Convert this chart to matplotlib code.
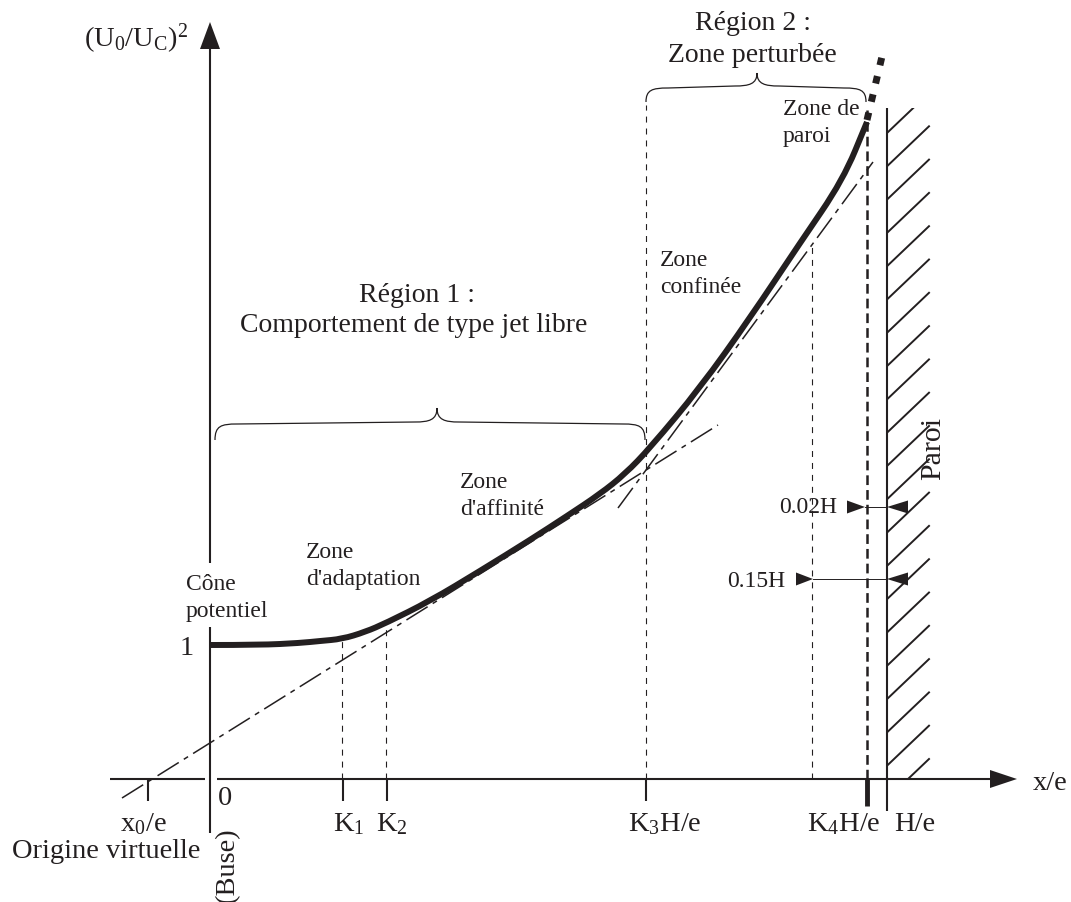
import numpy as np
import matplotlib
matplotlib.use('Agg')
import matplotlib.pyplot as plt
from matplotlib.path import Path
from matplotlib.patches import PathPatch, Polygon, Rectangle

plt.rcParams['font.family'] = ['Liberation Serif', 'DejaVu Serif']
plt.rcParams['mathtext.fontset'] = 'custom'
plt.rcParams['mathtext.rm'] = 'Liberation Serif'
plt.rcParams['mathtext.it'] = 'Liberation Serif:italic'
plt.rcParams['lines.scale_dashes'] = False

INK = '#231f20'

# ---------------- data (schematic units, origin at the axes crossing) ----------------
curve_x = [0, 50, 90, 110, 132, 155, 176, 220, 270, 320, 357, 390, 415, 440, 490, 540, 590, 633, 657]
curve_y = [134, 134, 136, 138, 140, 147, 156, 178, 208, 239, 263, 285, 305, 331, 391, 461, 536, 599, 657]
ext_x = [657, 674]
ext_y = [659, 731]

free_jet_x = [-88, 508]          # asymptote of the free-jet zone
free_jet_y = [-19, 354]
confined_x = [408, 663]          # asymptote of the confined zone
confined_y = [271, 617]

tick_pos = [-62, 133, 177, 436, 657]
tick_labels = ['x$_0$/e', 'K$_1$', 'K$_2$', 'K$_3$H/e', 'K$_4$H/e']
tick_label_x = [-67, 139, 182, 455, 634]

K1_x, K2_x, K3_x = 132, 176, 436
K4_x = 602          # 0.15H line
wall_near_x = 657   # 0.02H line
wall_x = 677
curve_at_K1, curve_at_K2 = 140, 156

AX_FS = 20.5
TITLE_FS = 20
ZONE_FS = 17

fig = plt.figure(figsize=(10.71, 9.02), dpi=100)
ax = fig.add_axes([0, 0, 1, 1])
ax.set_xlim(-210, 861)
ax.set_ylim(-123, 779)
ax.axis('off')

# ---------------- axes ----------------
ax.plot([0, 0], [-54, 152], color=INK, lw=1.5, solid_capstyle='butt')
ax.plot([0, 0], [216, 735], color=INK, lw=1.5, solid_capstyle='butt')
ax.add_patch(Polygon([(0, 757), (-10, 730), (10, 730)], closed=True, color=INK, lw=0))
ax.plot([-100, -5], [0, 0], color=INK, lw=1.5, solid_capstyle='butt')
ax.plot([7, 782], [0, 0], color=INK, lw=1.5, solid_capstyle='butt')
ax.add_patch(Polygon([(807, 0), (780, 9), (780, -9)], closed=True, color=INK, lw=0))

for i, xp in enumerate(tick_pos):
    if i == len(tick_pos) - 1:
        ax.plot([xp, xp], [0, -27], color=INK, lw=3.5, solid_capstyle='butt')
    else:
        ax.plot([xp, xp], [0, -22], color=INK, lw=1.5, solid_capstyle='butt')
    ax.text(tick_label_x[i], -52, tick_labels[i], ha='center', va='baseline',
            fontsize=AX_FS, color=INK)
ax.text(705, -52, 'H/e', ha='center', va='baseline', fontsize=AX_FS, color=INK)
ax.text(15, -26, '0', ha='center', va='baseline', fontsize=AX_FS, color=INK)
ax.text(-104, -79, 'Origine virtuelle', ha='center', va='baseline', fontsize=AX_FS, color=INK)
ax.text(17, -86, '(Buse)', ha='center', va='center', rotation=90, fontsize=AX_FS, color=INK)
ax.text(823, -11, 'x/e', ha='left', va='baseline', fontsize=AX_FS, color=INK)
ax.text(-74, 732, r'$(\mathrm{U}_0/\mathrm{U}_{\mathrm{C}})^2$', ha='center', va='baseline',
        fontsize=AX_FS, color=INK)
ax.text(-23, 124, '1', ha='center', va='baseline', fontsize=AX_FS, color=INK)

# ---------------- vertical reference lines ----------------
thin_dash = (0, (4.3, 4.3))
ax.plot([K1_x, K1_x], [0, curve_at_K1], color=INK, lw=0.8, linestyle=thin_dash)
ax.plot([K2_x, K2_x], [0, curve_at_K2], color=INK, lw=0.8, linestyle=thin_dash)
ax.plot([K3_x, K3_x], [0, 674], color=INK, lw=0.8, linestyle=thin_dash)
ax.plot([K4_x, K4_x], [0, 532], color=INK, lw=0.8, linestyle=thin_dash)
ax.plot([wall_near_x, wall_near_x], [0, 669], color=INK, lw=1.8, linestyle=(0, (7, 3.6)))

# wall
ax.plot([wall_x, wall_x], [-32, 671], color=INK, lw=1.5, solid_capstyle='butt')
clip = Rectangle((wall_x, 0), 45, 671, transform=ax.transData)
for y0 in np.arange(646, -40, -33.3):
    ln, = ax.plot([wall_x, wall_x + 42], [y0, y0 + 40], color=INK, lw=1.4)
    ln.set_clip_path(clip)
ax.text(723, 331, 'Paroi', rotation=90, ha='center', va='center', fontsize=21.5, color=INK)

# ---------------- asymptotes ----------------
dashdot = (0, (18, 4.3, 3.6, 4.3))
ax.plot(free_jet_x, free_jet_y, color=INK, lw=1.1, linestyle=dashdot)
ax.plot(confined_x, confined_y, color=INK, lw=1.1, linestyle=dashdot)

# ---------------- main curve (drawn as a smooth quadratic B-spline through the read points) ----
pts = list(zip(curve_x, curve_y))
verts = [pts[0]]
codes = [Path.MOVETO]
for i in range(1, len(pts) - 1):
    mx = (pts[i][0] + pts[i + 1][0]) / 2
    my = (pts[i][1] + pts[i + 1][1]) / 2
    verts += [pts[i], (mx, my)]
    codes += [Path.CURVE3, Path.CURVE3]
verts.append(pts[-1])
codes.append(Path.LINETO)
ax.add_patch(PathPatch(Path(verts, codes), fill=False, edgecolor=INK, lw=4.3,
                       capstyle='butt', joinstyle='round'))
ax.plot(ext_x, ext_y, color=INK, lw=5, linestyle=(0, (5.5, 8)), dash_capstyle='butt')

# ---------------- distance arrows ----------------
def tri(tip_x, y, base_x, h=6.5):
    ax.add_patch(Polygon([(tip_x, y), (base_x, y + h), (base_x, y - h)], closed=True,
                         color=INK, lw=0))

ax.plot([655, wall_x], [272, 272], color=INK, lw=0.7)
tri(655, 272, 637)
tri(wall_x, 272, 698)
ax.text(627, 266, '0.02H', ha='right', va='baseline', fontsize=ZONE_FS, color=INK)
ax.plot([603, wall_x], [200, 200], color=INK, lw=0.7)
tri(603, 200, 586)
tri(wall_x, 200, 698)
ax.text(575, 192, '0.15H', ha='right', va='baseline', fontsize=ZONE_FS, color=INK)

# ---------------- braces ----------------
def brace(x0, x1, xt, yb, yt, ye):
    verts = [(x0, ye), (x0, yb - 2), (x0 + 6, yb), (x0 + 22, yb),
             (xt - 22, yb + 2),
             (xt - 8, yb + 2), (xt, yb + 4), (xt, yt),
             (xt, yb + 4), (xt + 8, yb + 2), (xt + 22, yb + 2),
             (x1 - 22, yb),
             (x1 - 6, yb), (x1, yb - 2), (x1, ye)]
    codes = [Path.MOVETO, Path.CURVE4, Path.CURVE4, Path.CURVE4,
             Path.LINETO,
             Path.CURVE4, Path.CURVE4, Path.CURVE4,
             Path.CURVE4, Path.CURVE4, Path.CURVE4,
             Path.LINETO,
             Path.CURVE4, Path.CURVE4, Path.CURVE4]
    ax.add_patch(PathPatch(Path(verts, codes), fill=False, edgecolor=INK, lw=0.9))

brace(5, 435, 227, 355, 371, 339)
brace(436, 656, 547, 691, 706, 677)

# ---------------- annotations ----------------
ax.text(207, 477, 'Région 1 :', ha='center', va='baseline', fontsize=TITLE_FS, color=INK)
ax.text(204, 447, 'Comportement de type jet libre', ha='center', va='baseline', fontsize=TITLE_FS, color=INK)
ax.text(543, 749, 'Région 2 :', ha='center', va='baseline', fontsize=TITLE_FS, color=INK)
ax.text(542, 717, 'Zone perturbée', ha='center', va='baseline', fontsize=TITLE_FS, color=INK)

zone_labels = [('Cône', 'potentiel', -24, 189),
               ('Zone', "d'adaptation", 96, 221),
               ('Zone', "d'affinité", 250, 291),
               ('Zone', 'confinée', 450, 513),
               ('Zone de', 'paroi', 573, 664)]
for l1, l2, xl, yl in zone_labels:
    ax.text(xl, yl, l1, ha='left', va='baseline', fontsize=ZONE_FS, color=INK)
    ax.text(xl, yl - 27, l2, ha='left', va='baseline', fontsize=ZONE_FS, color=INK)

fig.savefig('out.png', dpi=100, facecolor='white')
